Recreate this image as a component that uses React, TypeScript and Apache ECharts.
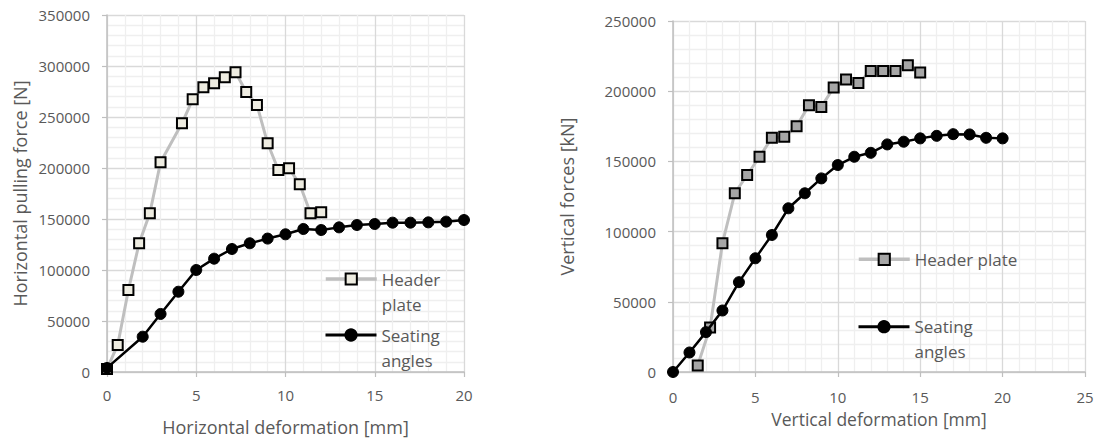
import React, { useEffect, useRef } from "react";
import * as echarts from "echarts";

// Left chart: horizontal pulling force vs horizontal deformation
const leftHeaderX = [0, 0.6, 1.2, 1.8, 2.4, 3.0, 4.2, 4.8, 5.4, 6.0, 6.6, 7.2, 7.8, 8.4, 9.0, 9.6, 10.2, 10.8, 11.4, 12.0];
const leftHeaderY = [3000, 26500, 80400, 126200, 155600, 205600, 243800, 267300, 279100, 283000, 288900, 293800, 274500, 261800, 224200, 198000, 199700, 184000, 155600, 156600];
const leftSeatX = [0, 2, 3, 4, 5, 6, 7, 8, 9, 10, 11, 12, 13, 14, 15, 16, 17, 18, 19, 20];
const leftSeatY = [4000, 34600, 56900, 78700, 100000, 111100, 120600, 126200, 130800, 135000, 140200, 139200, 141800, 144100, 145100, 146400, 146400, 146700, 147400, 149000];

// Right chart: vertical forces vs vertical deformation
const rightHeaderX = [1.5, 2.25, 3, 3.75, 4.5, 5.25, 6, 6.75, 7.5, 8.25, 9, 9.75, 10.5, 11.25, 12, 12.75, 13.5, 14.25, 15];
const rightHeaderY = [4700, 31700, 91700, 127300, 140300, 153300, 166800, 167500, 175100, 190000, 188800, 202600, 208300, 205900, 214400, 214400, 214400, 218500, 213300];
const rightSeatX = [0, 1, 2, 3, 4, 5, 6, 7, 8, 9, 10, 11, 12, 13, 14, 15, 16, 17, 18, 19, 20];
const rightSeatY = [0, 13900, 28400, 43800, 64000, 81000, 97600, 116600, 127300, 137900, 147400, 153300, 156100, 162100, 164000, 166400, 168200, 169400, 169200, 166800, 166400];

const seriesNames = ["Header plate", "Seating angles"];
const leftXTitle = "Horizontal deformation [mm]";
const leftYTitle = "Horizontal pulling force [N]";
const rightXTitle = "Vertical deformation [mm]";
const rightYTitle = "Vertical forces [kN]";

const zip = (xs: number[], ys: number[]) => xs.map((x, i) => [x, ys[i]]);

export default function App() {
  const ref = useRef<HTMLDivElement>(null);
  useEffect(() => {
    const chart = echarts.init(ref.current!, null, { renderer: "svg" });
    const font = "'Open Sans', sans-serif";
    const textColor = "#595959";
    const plain = (v: number) => String(v);

    const axisBase = (extra: any) => ({
      type: "value",
      nameLocation: "middle",
      nameTextStyle: { fontSize: 18, color: textColor, fontFamily: font },
      axisLine: { show: true, onZero: false, lineStyle: { color: "#bfbfbf", width: 1.5 } },
      axisTick: { show: true, length: 5, lineStyle: { color: "#bfbfbf", width: 1.2 } },
      splitLine: { show: true, lineStyle: { color: "#d9d9d9", width: 1.3 } },
      minorTick: { show: false, splitNumber: 5 },
      minorSplitLine: { show: true, lineStyle: { color: "#efefef", width: 1.3 } },
      ...extra,
    });
    const label = (margin: number) => ({ margin, fontSize: 15, color: textColor, fontFamily: font, formatter: plain });

    const legendText = { fontSize: 17, color: textColor, fontFamily: font, lineHeight: 25 };
    // a leading empty line keeps the icon level with the first wrapped line
    const wrap = (name: string) => "\n" + name.replace(" ", "\n");
    const legendBase = {
      orient: "horizontal",
      padding: 0,
      itemWidth: 51,
      itemHeight: 14,
      selectedMode: false,
      textStyle: legendText,
    };
    const headerLine = { width: 3.5 };
    const seatLine = { width: 3 };

    chart.setOption({
      animation: false,
      backgroundColor: "#ffffff",
      grid: [
        { left: 107, top: 15, width: 357, height: 357 },
        { left: 673, top: 21, width: 412, height: 351 },
      ],
      xAxis: [
        axisBase({ gridIndex: 0, min: 0, max: 20, interval: 5, name: leftXTitle, nameGap: 46, axisLabel: label(15) }),
        axisBase({
          gridIndex: 1, min: 0, max: 25, interval: 5, name: rightXTitle, nameGap: 38,
          nameTextStyle: { fontSize: 17.5, color: textColor, fontFamily: font },
          axisLabel: label(17),
        }),
      ],
      yAxis: [
        axisBase({ gridIndex: 0, min: 0, max: 350000, interval: 50000, name: leftYTitle, nameGap: 78, axisLabel: label(17) }),
        axisBase({ gridIndex: 1, min: 0, max: 250000, interval: 50000, name: rightYTitle, nameGap: 97, axisLabel: label(17) }),
      ],
      legend: [
        { ...legendBase, left: 324, top: 241.5, data: [seriesNames[0]], formatter: wrap, lineStyle: headerLine },
        { ...legendBase, left: 324, top: 297.5, data: [seriesNames[1]], formatter: wrap, lineStyle: seatLine },
        {
          ...legendBase, left: 857, top: 246.8, lineStyle: headerLine,
          data: [{ name: seriesNames[0], itemStyle: { color: "#a6a6a6", borderColor: "#000000", borderWidth: 2 } }],
        },
        { ...legendBase, left: 857, top: 289.2, data: [seriesNames[1]], formatter: wrap, lineStyle: seatLine },
      ],
      series: [
        {
          name: seriesNames[0], type: "line", xAxisIndex: 0, yAxisIndex: 0,
          data: zip(leftHeaderX, leftHeaderY),
          symbol: "rect", symbolSize: 10,
          lineStyle: { color: "#bfbfbf", width: 3 },
          itemStyle: { color: "#eeece1", borderColor: "#000000", borderWidth: 2 },
          z: 2,
        },
        {
          name: seriesNames[1], type: "line", xAxisIndex: 0, yAxisIndex: 0,
          data: zip(leftSeatX, leftSeatY),
          symbol: "circle", symbolSize: 11,
          lineStyle: { color: "#000000", width: 2.5 },
          itemStyle: { color: "#000000", borderColor: "#000000", borderWidth: 1 },
          z: 3,
        },
        {
          name: seriesNames[0], type: "line", xAxisIndex: 1, yAxisIndex: 1,
          data: zip(rightHeaderX, rightHeaderY),
          symbol: "rect", symbolSize: 10,
          lineStyle: { color: "#bfbfbf", width: 3 },
          itemStyle: { color: "#a6a6a6", borderColor: "#000000", borderWidth: 2 },
          z: 2,
        },
        {
          name: seriesNames[1], type: "line", xAxisIndex: 1, yAxisIndex: 1,
          data: zip(rightSeatX, rightSeatY),
          symbol: "circle", symbolSize: 11,
          lineStyle: { color: "#000000", width: 2.5 },
          itemStyle: { color: "#000000", borderColor: "#000000", borderWidth: 1 },
          z: 3,
        },
      ],
    });
    return () => chart.dispose();
  }, []);
  return <div ref={ref} style={{ position: "absolute", left: 0, top: 0, width: 1100, height: 442 }} />;
}
